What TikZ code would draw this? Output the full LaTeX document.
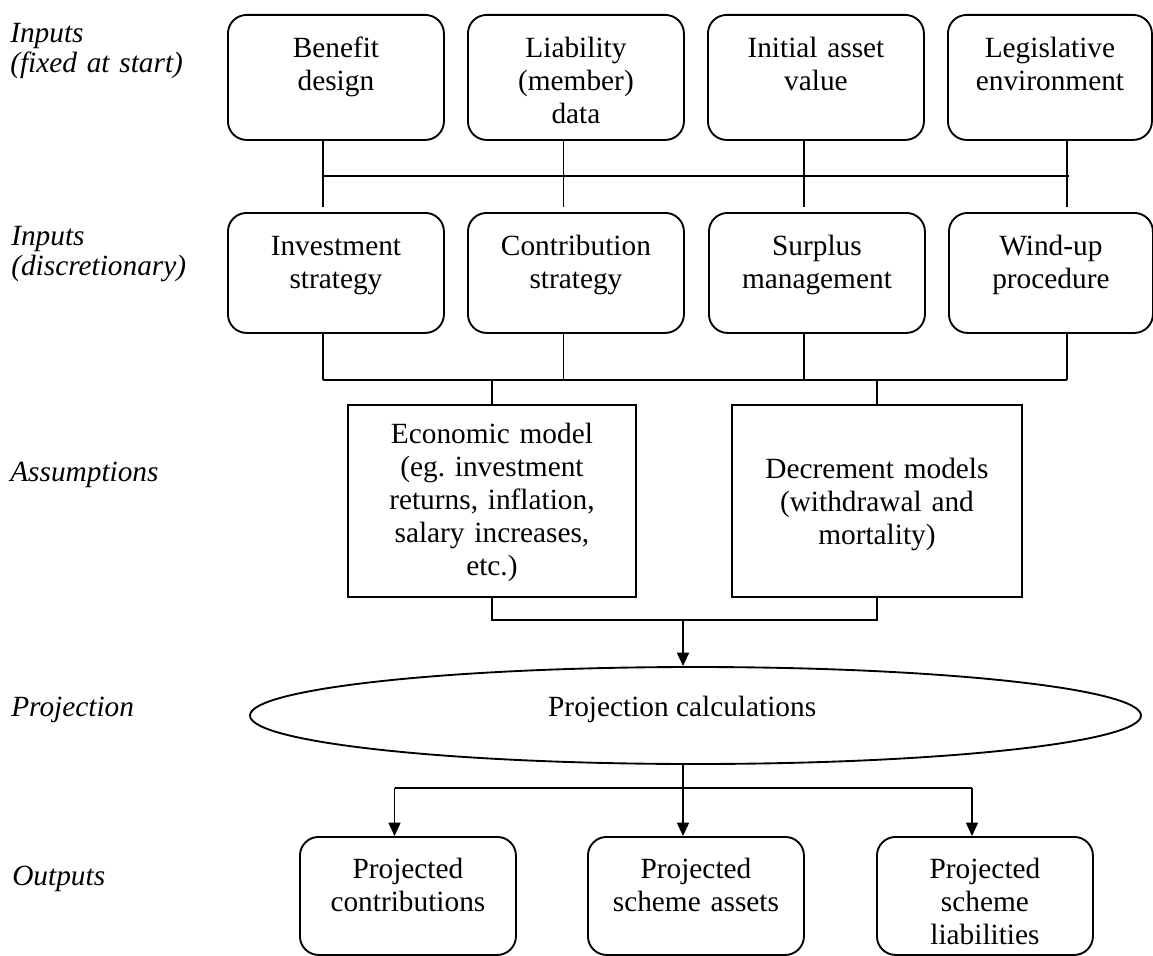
\documentclass[tikz,border=0pt]{standalone}
\usepackage{fontspec}
\setmainfont{Liberation Serif}
\usetikzlibrary{shapes.geometric,arrows.meta}
\frenchspacing
\begin{document}
\begin{tikzpicture}[x=0.75pt,y=-0.75pt,
  font=\fontsize{22}{24.75}\selectfont,
  rbox/.style={draw, line width=1.4pt, rounded corners=14pt, inner sep=0pt,
    anchor=north west, align=center, minimum width=162pt, text width=150pt},
  toprow/.style={rbox, text height=32pt, text depth=61.75pt},
  midrow/.style={rbox, text height=32.25pt, text depth=57.75pt},
  outbox/.style={rbox, text height=31.5pt, text depth=57pt},
  sqbox/.style={draw, line width=1.4pt, inner sep=0pt, anchor=north west,
    align=center, text width=205pt},
  lab/.style={anchor=base west, inner sep=0pt, align=left, text width=200pt,
    font=\fontsize{22}{22.5}\selectfont\itshape},
  conn/.style={line width=1.1pt},
  arr/.style={conn, -{Triangle[length=10pt,width=9pt]}}
]
\useasboundingbox (0,0) rectangle (1153,956);

% side labels
\node[lab] (l1) at (10,42.7) {Inputs\\(fixed at start)};
\node[lab] (l2) at (11,245) {Inputs\\(discretionary)};
\node[lab] (l3) at (10,481.7) {Assumptions};
\node[lab] (l4) at (11,716.7) {Projection};
\node[lab] (l5) at (12,885) {Outputs};

% row 1
\node[toprow] (bd) at (227,14) {Benefit\\design};
\node[toprow] (ld) at (467,14) {Liability\\(member)\\data};
\node[toprow] (ia) at (707,14) {Initial asset\\value};
\node[toprow, minimum width=153pt] (le) at (947,14) {Legislative\\environment};

% row 2
\node[midrow] (is) at (227,212) {Investment\\strategy};
\node[midrow] (cs) at (467,212) {Contribution\\strategy};
\node[midrow] (sm) at (708,212) {Surplus\\management};
\node[midrow, minimum width=153pt] (wp) at (948,212) {Wind-up\\procedure};

% assumptions
\node[sqbox, minimum width=216pt, text height=28.7pt, text depth=115.3pt] (ec) at (347,404)
  {Economic model\\(eg. investment\\returns, inflation,\\salary increases,\\etc.)};
\node[sqbox, minimum width=217.5pt, text height=55.5pt, text depth=88.5pt] (dm) at (731,404)
  {Decrement models\\(withdrawal and\\mortality)};

% projection
\node[draw, ellipse, line width=1.4pt, minimum width=668.25pt, minimum height=72.75pt,
  inner sep=0pt, text height=12pt, text depth=9.8pt] (pr) at (695.5,715.5)
  {Projection calculations\hspace*{20pt}};

% outputs
\node[outbox] (pc) at (299,836) {Projected\\contributions};
\node[outbox] (pa) at (587,836) {Projected\\scheme assets};
\node[outbox] (pl) at (876,836) {Projected\\scheme\\liabilities};

% connector coordinates
\coordinate (xa) at (323,0);
\coordinate (xb) at (563.5,0);
\coordinate (xc) at (804,0);
\coordinate (xd) at (1067,0);
\coordinate (busA) at (323,176);
\coordinate (busAe) at (1069,176);
\coordinate (busB) at (323,380);
\coordinate (busBe) at (1067,380);
\coordinate (busC) at (683,620);
\coordinate (busD) at (683,788);
\coordinate (xo1) at (394.5,0);
\coordinate (xo3) at (972,0);

% row1 -> row2
\draw[conn] (busA) -- (busAe);
\draw[conn, shorten >=3.75pt] (bd.south -| xa) -- (is.north -| xa);
\draw[conn, shorten >=3.75pt] (ld.south -| xb) -- (cs.north -| xb);
\draw[conn, shorten >=3.75pt] (ia.south -| xc) -- (sm.north -| xc);
\draw[conn, shorten >=3.75pt] (le.south -| xd) -- (wp.north -| xd);

% row2 -> assumptions
\draw[conn] (is.south -| xa) -- (busB -| xa);
\draw[conn] (cs.south -| xb) -- (busB -| xb);
\draw[conn] (sm.south -| xc) -- (busB -| xc);
\draw[conn] (wp.south -| xd) -- (busB -| xd);
\draw[conn] (busB) -- (busBe);
\draw[conn] (busB -| ec.north) -- (ec.north);
\draw[conn] (busB -| dm.north) -- (dm.north);

% assumptions -> projection
\draw[conn] (ec.south) -- (ec.south |- busC) -- (dm.south |- busC) -- (dm.south);
\draw[arr] (busC) -- (pr.north -| busC);

% projection -> outputs
\draw[conn] (pr.south -| busD) -- (busD);
\draw[conn] (busD -| xo1) -- (busD -| xo3);
\draw[arr] (busD -| xo1) -- (pc.north -| xo1);
\draw[arr] (busD) -- (pa.north -| busD);
\draw[arr] (busD -| xo3) -- (pl.north -| xo3);
\end{tikzpicture}
\end{document}
